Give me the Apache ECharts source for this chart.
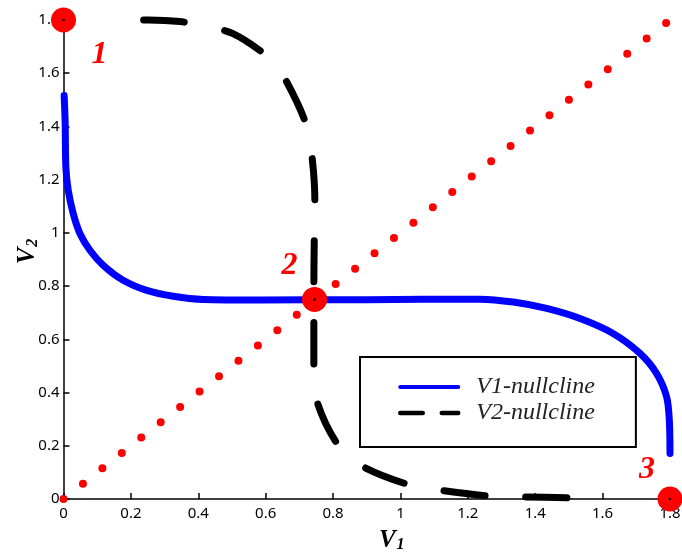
<!DOCTYPE html>
<html><head><meta charset="utf-8">
<script src="https://cdn.jsdelivr.net/npm/echarts@6/dist/echarts.min.js"></script>
<style>html,body{margin:0;padding:0;background:#fff}#c{width:682px;height:554px}</style>
</head><body><div id="c"></div>
<script>
// ---- data ----
const v1Nullcline = [[0.002,1.516],[0.005,1.41],[0.007,1.247],[0.014,1.16],[0.029,1.072],[0.049,0.997],[0.079,0.934],[0.118,0.878],[0.177,0.822],[0.247,0.784],[0.326,0.762],[0.415,0.750],[0.583,0.748],[0.9,0.749],[1.236,0.751],[1.335,0.740],[1.434,0.716],[1.533,0.678],[1.631,0.622],[1.711,0.547],[1.760,0.472],[1.790,0.384],[1.798,0.296],[1.80,0.171]];
const v2Nullcline = [[0.162,1.8],[0.251,1.8],[0.346,1.794],[0.425,1.776],[0.503,1.749],[0.592,1.677],[0.625,1.632],[0.657,1.580],[0.716,1.422],[0.736,1.302],[0.746,1.122],[0.744,0.95],[0.743,0.784],[0.743,0.492],[0.752,0.368],[0.811,0.210],[0.880,0.128],[1.019,0.056],[1.112,0.034],[1.266,0.011],[1.363,0.008],[1.512,0.004]];
const separatrix = [[0,0],[1.8,1.8]];
const fixedPoints = [[0,1.8],[0.745,0.75],[1.8,0]];
const fixedPointLabels = ['1','2','3'];
const annotationPoint = [[1.322,1.471]];
const annotationText = ['Separatrix'];
const seriesNames = ['V1-nullcline','V2-nullcline'];
const xTicks = {min:0, max:1.8, step:0.2};
const yTicks = {min:0, max:1.8, step:0.2};

// ---- chart ----
const labelOffsets = [[36,35],[-25,-34],[-23,-29]];
const serif = '"Liberation Serif","Times New Roman",serif';
const chart = echarts.init(document.getElementById('c'), null, {renderer:'canvas'});
chart.setOption({
  animation:false,
  backgroundColor:'#fff',
  grid:{left:63.5, right:12, top:20, bottom:55, containLabel:false, outerBoundsMode:'none'},
  xAxis:{type:'value', min:xTicks.min, max:xTicks.max, interval:xTicks.step,
    axisLine:{show:true, onZero:false, lineStyle:{color:'#000', width:1.5}},
    axisTick:{show:true, inside:true, length:6, lineStyle:{color:'#000', width:1.5}},
    axisLabel:{color:'#000', fontSize:15, fontFamily:'"Noto Sans",sans-serif', margin:7, hideOverlap:false},
    splitLine:{show:false},
    name:'{v|V}{s|1}', nameLocation:'middle', nameGap:29, nameMoveOverlap:false,
    nameTextStyle:{padding:[0,0,0,50], rich:{
      v:{fontSize:25, fontWeight:'bold', fontStyle:'italic', fontFamily:serif, color:'#000'},
      s:{fontSize:16, fontWeight:'bold', fontStyle:'italic', fontFamily:serif, color:'#000', verticalAlign:'bottom', padding:[8,0,0,1]}}}
  },
  yAxis:{type:'value', min:yTicks.min, max:yTicks.max, interval:yTicks.step,
    axisLine:{show:true, onZero:false, lineStyle:{color:'#000', width:1.5}},
    axisTick:{show:true, inside:true, length:6, lineStyle:{color:'#000', width:1.5}},
    axisLabel:{color:'#000', fontSize:15, fontFamily:'"Noto Sans",sans-serif', margin:4, hideOverlap:false},
    splitLine:{show:false},
    name:'{v|V}{s|2}', nameLocation:'middle', nameGap:23, nameRotate:90, nameMoveOverlap:false,
    nameTextStyle:{padding:[0,0,0,16], rich:{
      v:{fontSize:25, fontWeight:'bold', fontStyle:'italic', fontFamily:serif, color:'#000'},
      s:{fontSize:16, fontWeight:'bold', fontStyle:'italic', fontFamily:serif, color:'#000', verticalAlign:'bottom', padding:[8,0,0,1]}}}
  },
  legend:{
    orient:'vertical', left:360, top:357,
    backgroundColor:'#fff', borderColor:'#000', borderWidth:2, borderRadius:0,
    padding:[17,41,21,38], itemGap:0, itemWidth:58, itemHeight:14,
    itemStyle:{opacity:0},
    lineStyle:{width:4},
    textStyle:{fontSize:24, lineHeight:26, fontStyle:'italic', fontFamily:serif, color:'#222', padding:[0,0,0,13]},
    data:[
      {name:seriesNames[0], itemStyle:{opacity:0}, lineStyle:{width:4, type:'solid', cap:'round'}},
      {name:seriesNames[1], itemStyle:{opacity:0}, lineStyle:{type:[30,19], width:4.5, cap:'round'}}
    ]
  },
  series:[
    {name:seriesNames[0], type:'line', data:v1Nullcline, symbol:'none', smooth:0.3, clip:false, z:2,
      lineStyle:{color:'#0000ff', width:7, cap:'round', join:'round'}, itemStyle:{color:'#0000ff'}},
    {name:seriesNames[1], type:'line', data:v2Nullcline, symbol:'none', smooth:0.3, clip:false, z:3,
      lineStyle:{color:'#000', width:7, type:[41,41], dashOffset:56.5, cap:'round', join:'round'}, itemStyle:{color:'#000'}},
    {name:'Separatrix', type:'line', data:separatrix, symbol:'none', clip:false, z:4,
      lineStyle:{color:'#ff0000', width:8, type:[0,24.77], cap:'round'}},
    {name:'fixed', type:'scatter', data:fixedPoints.map((p,i)=>({value:p,
        label:{show:true, formatter:fixedPointLabels[i], offset:labelOffsets[i]}})),
      symbolSize:25, clip:false, z:10, itemStyle:{color:'#ff0000', opacity:1},
      label:{position:'inside', color:'#ff0000', fontSize:32, fontWeight:'bold', fontStyle:'italic', fontFamily:serif}},
    {name:'fixedCenter', type:'scatter', data:fixedPoints, symbolSize:2.5, clip:false, z:11, itemStyle:{color:'#000', opacity:1}},
    {name:'annot', type:'scatter', data:annotationPoint.map((p,i)=>({value:p,
        label:{show:true, formatter:annotationText[i]}})),
      symbolSize:0, clip:false, z:12, itemStyle:{opacity:0},
      label:{position:'inside', color:'#000', fontSize:28, fontWeight:'bold', fontStyle:'italic', fontFamily:serif}}
  ]
});
</script></body></html>
